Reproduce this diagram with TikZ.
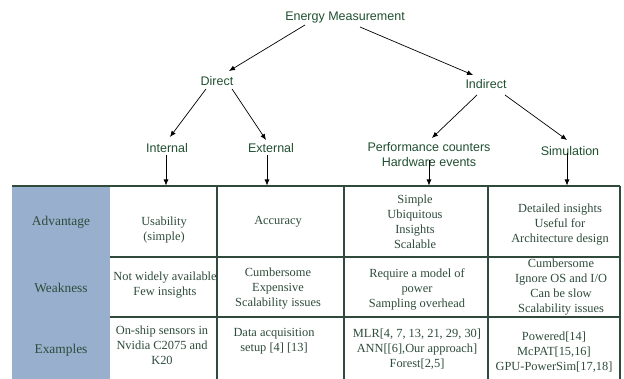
\documentclass[tikz,border=0pt]{standalone}
\usepackage{fontspec}
\setmainfont{Liberation Serif}
\newfontfamily\treefont{Liberation Sans}
\usetikzlibrary{arrows.meta}
\definecolor{treetxt}{HTML}{1F4F2F}
\definecolor{celltxt}{HTML}{2E4B3B}
\definecolor{gridc}{HTML}{2F4A3A}
\definecolor{headblue}{HTML}{98B0CE}
\begin{document}
\begin{tikzpicture}[x=1pt,y=-1pt,
  tree/.style={font={\treefont\fontsize{12.5}{15}\selectfont}, text=treetxt, inner sep=0pt, anchor=base, align=center},
  cell/.style={font={\fontsize{12.4}{15}\selectfont}, text=celltxt, inner sep=0pt, align=center},
  head/.style={font={\fontsize{13.4}{16}\selectfont}, text=celltxt, inner sep=0pt},
  conn/.style={line width=0.7pt, -{Latex[length=6pt,width=5pt]}},
  grid/.style={draw=gridc, line width=1.1pt}]
\useasboundingbox (0,0) rectangle (624,379);
% header column
\fill[headblue] (12,186) rectangle (110,379);
% grid
\draw[grid] (12,186) -- (620,186);
\draw[grid] (110,257) -- (620,257);
\draw[grid] (110,317) -- (620,317);
\draw[grid] (217,186) -- (217,379);
\draw[grid] (344,186) -- (344,379);
\draw[grid] (488,186) -- (488,379);
\draw[grid] (620,186) -- (620,379);
% tree nodes
\node[tree] (em) at (345,21) {Energy Measurement};
\node[tree] (direct) at (217,86) {Direct};
\node[tree] (indirect) at (486,89) {Indirect};
\node[tree] (internal) at (167,153) {Internal};
\node[tree] (external) at (271,153) {External};
\node[tree] (perf) at (429,167) {Performance counters\\Hardware events};
\node[tree] (sim) at (570,156) {Simulation};
% table top targets
\coordinate (tInt) at (166,185.5);
\coordinate (tExt) at (267,185.5);
\coordinate (tPerf) at (429,185.5);
\coordinate (tSim) at (567,185.5);
% connectors
\draw[conn] ([shift={(-40,4)}]em.base) -- ([shift={(12,-15)}]direct.base);
\draw[conn] ([shift={(15,6)}]em.base) -- ([shift={(-13,-14)}]indirect.base);
\draw[conn] ([shift={(-11,3)}]direct.base) -- ([shift={(3,-16)}]internal.base);
\draw[conn] ([shift={(15,3)}]direct.base) -- ([shift={(-5,-13)}]external.base);
\draw[conn] ([shift={(-9,6)}]indirect.base) -- ([shift={(3,-29)}]perf.base);
\draw[conn] ([shift={(19,6)}]indirect.base) -- ([shift={(-3,-16)}]sim.base);
\draw[conn] ([shift={(-1,2)}]internal.base) -- (tInt);
\draw[conn] ([shift={(-4,2)}]external.base) -- (tExt);
\draw[conn] ([shift={(0,-7)}]perf.base) -- (tPerf);
\draw[conn] ([shift={(-3,-3)}]sim.base) -- (tSim);
% headers
\node[head] (hAdv) at (61,222) {Advantage};
\node[head] (hWeak) at (61,288) {Weakness};
\node[head] (hEx) at (61,350) {Examples};
% advantage row
\node[cell] (a1) at (164,230) {Usability\\(simple)};
\node[cell] (a2) at (278,222) {Accuracy};
\node[cell] (a3) at (415,221.5) {Simple\\Ubiquitous\\Insights\\Scalable};
\node[cell] (a4) at (560,225) {Detailed insights\\Useful for\\Architecture design};
% weakness row
\node[cell] (w1) at (165,285.5) {Not widely available\\Few insights};
\node[cell] (w2) at (278,289) {Cumbersome\\Expensive\\Scalability issues};
\node[cell] (w3) at (417,289) {Require a model of\\power\\Sampling overhead};
\node[cell] (w4) at (561,287.5) {Cumbersome\\Ignore OS and I/O\\Can be slow\\Scalability issues};
% examples row
\node[cell] (e1) at (162,345) {On-ship sensors in\\Nvidia C2075 and\\K20};
\node[cell] (e2) at (274,341) {Data acquisition\\setup [4] [13]};
\node[cell] (e3) at (417,349) {MLR[4, 7, 13, 21, 29, 30]\\ANN[[6],Our approach]\\Forest[2,5]};
\node[cell] (e4) at (554,352) {Powered[14]\\McPAT[15,16]\\GPU-PowerSim[17,18]};
\end{tikzpicture}
\end{document}
